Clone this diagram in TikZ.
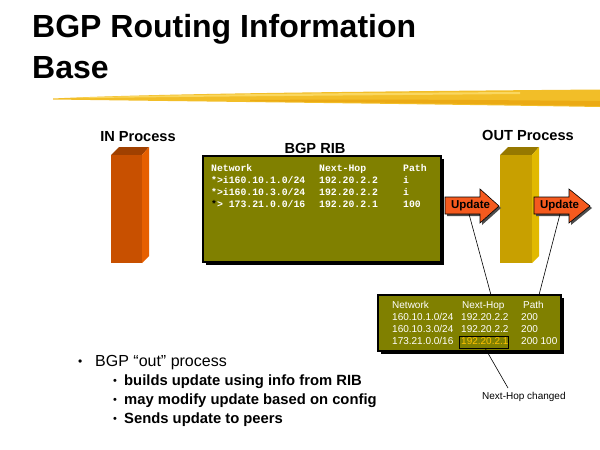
\documentclass[tikz,border=0pt]{standalone}
\usepackage{fontspec}
\setmainfont{Liberation Sans}
\setmonofont{Liberation Mono}
\definecolor{olivebox}{RGB}{128,128,0}
\definecolor{updorange}{RGB}{245,90,30}
\definecolor{infront}{RGB}{200,80,0}
\definecolor{inside}{RGB}{230,95,0}
\definecolor{intop}{RGB}{160,64,0}
\definecolor{outfront}{RGB}{200,160,0}
\definecolor{outside}{RGB}{225,185,0}
\definecolor{outtop}{RGB}{150,120,0}
\definecolor{hilite}{RGB}{255,192,0}
\definecolor{brush}{RGB}{242,190,40}
\definecolor{brushlight}{RGB}{250,215,95}
\definecolor{brushdark}{RGB}{235,170,20}
\tikzset{
  title/.style={font=\fontsize{32}{36}\selectfont\bfseries, anchor=base west, inner sep=0},
  label/.style={font=\fontsize{14.6}{16}\selectfont\bfseries, anchor=base, inner sep=0},
  ribtxt/.style={font=\fontsize{9.8}{11}\selectfont\ttfamily\bfseries, text=white, anchor=base west, inner sep=0},
  tbltxt/.style={font=\fontsize{10}{11}\selectfont, text=white, anchor=base west, inner sep=0},
  updtxt/.style={font=\fontsize{11.5}{12}\selectfont\bfseries, text=black, inner sep=0},
  bul/.style={anchor=base west, inner sep=0},
  leader/.style={draw=black, line width=0.6pt},
}
\begin{document}
\begin{tikzpicture}[x=1pt,y=-1pt]
\useasboundingbox[fill=white] (0,0) rectangle (600,450);

% title
\node[title] (t1) at (32,37) {BGP Routing Information};
\node[title] (t2) at (32,78) {Base};

% brush stroke
\fill[brush] (53,98.5) .. controls (150,94) and (300,92) .. (600,89.5) -- (600,107) .. controls (420,104) and (200,101.5) .. (53,99.5) -- cycle;
\fill[brushlight] (80,97.5) .. controls (200,94) and (350,93) .. (520,92) -- (520,94) .. controls (350,95.5) and (200,96.5) .. (80,98.2) -- cycle;
\fill[brushdark] (250,100) .. controls (380,99) and (480,100) .. (600,101) -- (600,106) .. controls (480,104) and (380,102.5) .. (250,101.2) -- cycle;

% IN process bar
\node[label] (inlbl) at (138,141) {IN Process};
\fill[intop] (111,155) -- (119,147) -- (149,147) -- (142,155) -- cycle;
\fill[inside] (142,155) -- (149,147) -- (149,256) -- (142,263) -- cycle;
\fill[infront] (111,155) rectangle (142,263);
\coordinate (inbar) at (126,205);

% BGP RIB
\node[label] (riblbl) at (315,153) {BGP RIB};
\fill[black] (206,159) rectangle (444,265);
\draw[fill=olivebox, draw=black, line width=1.2pt] (203,156) rectangle (441,262);
\node[ribtxt] (rh1) at (211,171.7) {Network};
\node[ribtxt] (rh2) at (319,171.7) {Next-Hop};
\node[ribtxt] (rh3) at (403,171.7) {Path};
\node[ribtxt] (r1a) at (211,183.7) {*>i160.10.1.0/24};
\node[ribtxt] (r1b) at (319,183.7) {192.20.2.2};
\node[ribtxt] (r1c) at (403,183.7) {i};
\node[ribtxt] (r2a) at (211,195.7) {*>i160.10.3.0/24};
\node[ribtxt] (r2b) at (319,195.7) {192.20.2.2};
\node[ribtxt] (r2c) at (403,195.7) {i};
\node[ribtxt] (r3a) at (211,207.7) {{\color{black}*}> 173.21.0.0/16};
\node[ribtxt] (r3b) at (319,207.7) {192.20.2.1};
\node[ribtxt] (r3c) at (403,207.7) {100};

% OUT process bar
\node[label] (outlbl) at (528,140) {OUT Process};
\fill[outtop] (500,155) -- (508,147) -- (539,147) -- (532,155) -- cycle;
\fill[outside] (532,155) -- (539,147) -- (539,256) -- (532,263) -- cycle;
\fill[outfront] (500,155) rectangle (532,263);
\coordinate (outbar) at (516,205);

% Update arrows
\fill[black!70] (447,199) -- (482,199) -- (482,191) -- (501,208) -- (482,225) -- (482,216) -- (447,216) -- cycle;
\draw[fill=updorange, draw=black, line width=0.6pt] (445,197) -- (480,197) -- (480,189) -- (499,206) -- (480,223) -- (480,214) -- (445,214) -- cycle;
\node[updtxt] (upd1) at (470.5,206) {Update};
\fill[black!70] (536,199) -- (571,199) -- (571,191) -- (592,208) -- (571,225) -- (571,216) -- (536,216) -- cycle;
\draw[fill=updorange, draw=black, line width=0.6pt] (534,197) -- (569,197) -- (569,189) -- (590,206) -- (569,223) -- (569,214) -- (534,214) -- cycle;
\node[updtxt] (upd2) at (559.5,206) {Update};
\coordinate (u1foot) at (469,214);
\coordinate (u2foot) at (560,214);

% lower table
\fill[black] (381,298) rectangle (564,354);
\draw[fill=olivebox, draw=black, line width=1.2pt] (378,295) rectangle (561,351);
\coordinate (tblL) at (491,295);
\coordinate (tblR) at (539,295);
\node[tbltxt] (th1) at (392,308.3) {Network};
\node[tbltxt] (th2) at (462,308.3) {Next-Hop};
\node[tbltxt] (th3) at (523,308.3) {Path};
\node[tbltxt] (t1a) at (392,320.3) {160.10.1.0/24};
\node[tbltxt] (t1b) at (461,320.3) {192.20.2.2};
\node[tbltxt] (t1c) at (521,320.3) {200};
\node[tbltxt] (t2a) at (392,332.3) {160.10.3.0/24};
\node[tbltxt] (t2b) at (461,332.3) {192.20.2.2};
\node[tbltxt] (t2c) at (521,332.3) {200};
\node[tbltxt] (t3a) at (392,344.3) {173.21.0.0/16};
\node[tbltxt, text=hilite] (t3b) at (461,344.3) {192.20.2.1};
\node[tbltxt] (t3c) at (521,344.3) {200 100};
\draw[black, line width=0.8pt] (459,336.5) rectangle (508,348);
\coordinate (hlfoot) at (485,348);

% connectors
\draw[leader] (u1foot) -- (tblL);
\draw[leader] (u2foot) -- (tblR);
\node[font=\fontsize{10}{11}\selectfont, anchor=base west, inner sep=0] (nhc) at (482,399) {Next-Hop changed};
\coordinate (nhctop) at (508,388);
\draw[leader] (hlfoot) -- (nhctop);

% bullets
\node[bul, font=\fontsize{12}{14}\selectfont] (b0) at (78,365) {•};
\node[bul, font=\fontsize{16}{20}\selectfont] (b0t) at (95,366.5) {BGP “out” process};
\node[bul, font=\fontsize{11}{14}\selectfont] (b1) at (113,384) {•};
\node[bul, font=\fontsize{14.8}{16}\selectfont\bfseries] (b1t) at (124,385) {builds update using info from RIB};
\node[bul, font=\fontsize{11}{14}\selectfont] (b2) at (113,403) {•};
\node[bul, font=\fontsize{14.8}{16}\selectfont\bfseries] (b2t) at (124,404) {may modify update based on config};
\node[bul, font=\fontsize{11}{14}\selectfont] (b3) at (113,422) {•};
\node[bul, font=\fontsize{14.8}{16}\selectfont\bfseries] (b3t) at (124,423) {Sends update to peers};
\end{tikzpicture}
\end{document}
